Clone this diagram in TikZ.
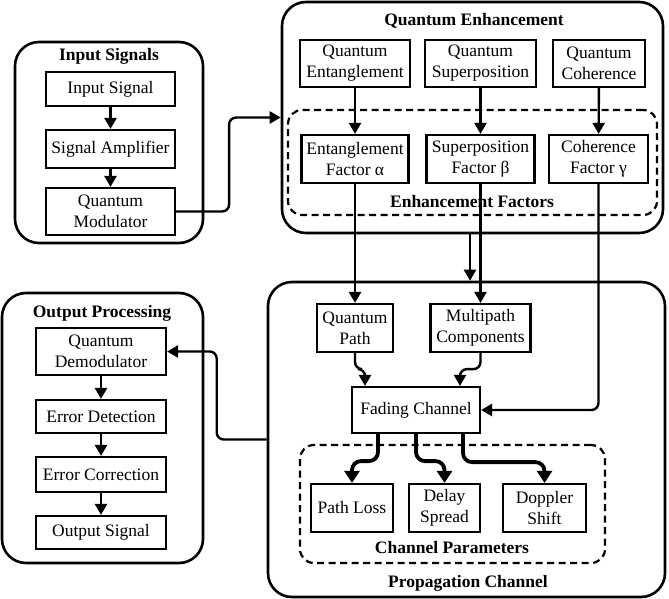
\documentclass[tikz,border=0pt]{standalone}
\usepackage{fontspec}
\setmainfont{Liberation Serif}
\usepackage{tikz}
\usetikzlibrary{arrows.meta}

\newcommand{\diagfont}{\fontsize{17.5}{21}\selectfont}
\tikzset{
  block/.style={draw, line width=2.2pt, fill=white, align=center, inner sep=1pt, font=\diagfont},
  group/.style={draw, line width=2.6pt, rounded corners=24pt},
  subgroup/.style={draw, line width=2.2pt, dash pattern=on 7pt off 4.5pt, rounded corners=14pt},
  title/.style={font=\diagfont\bfseries, inner sep=0pt},
  flow/.style={line width=2.4pt, rounded corners=7pt, -{Triangle[length=11pt,width=12pt]}},
  heavy/.style={line width=3.8pt, rounded corners=9pt, -{Triangle[length=12pt,width=15pt]}}
}

\begin{document}
\begin{tikzpicture}[x=1pt, y=-1pt]
	\useasboundingbox (0,0) rectangle (669,599);
	% Groups
	\node[group, minimum width=188pt, minimum height=201pt] (ingrp) at (109,142.5) {};
	\node[group, minimum width=381pt, minimum height=231pt] (qe) at (472.5,117.5) {};
	\node[group, minimum width=397pt, minimum height=315pt] (pc) at (466.5,439.5) {};
	\node[group, minimum width=201pt, minimum height=270pt] (outgrp) at (102.5,428) {};
	\node[subgroup, minimum width=369pt, minimum height=105pt] (ef) at (472.5,162.5) {};
	\node[subgroup, minimum width=305pt, minimum height=118pt] (cp) at (452.5,504) {};
	% Titles
	\node[title] (tin) at (109,56) {Input Signals};
	\node[title] (tqe) at (474,21) {Quantum Enhancement};
	\node[title] (tef) at (472,202) {Enhancement Factors};
	\node[title] (tpc) at (468,583) {Propagation Channel};
	\node[title] (tcp) at (452,548) {Channel Parameters};
	\node[title] (tout) at (102,313) {Output Processing};
	% Input signals
	\node[block, minimum width=129pt, minimum height=34pt] (insig) at (110.5,89) {Input Signal};
	\node[block, minimum width=129pt, minimum height=38pt] (amp) at (110.5,149) {Signal Amplifier};
	\node[block, minimum width=129pt, minimum height=47pt] (mod) at (110.5,211.5) {Quantum\\Modulator};
	% Quantum enhancement
	\node[block, minimum width=110pt, minimum height=47pt] (ent) at (355,63.5) {Quantum\\Entanglement};
	\node[block, minimum width=111pt, minimum height=47pt] (sup) at (480.5,63.5) {Quantum\\Superposition};
	\node[block, minimum width=92pt, minimum height=47pt] (coh) at (599,63.5) {Quantum\\Coherence};
	\node[block, minimum width=107pt, minimum height=48pt] (fa) at (355,159) {Entanglement\\Factor α};
	\node[block, minimum width=108pt, minimum height=48pt] (fb) at (480.5,159) {Superposition\\Factor β};
	\node[block, minimum width=99pt, minimum height=48pt] (fc) at (598.5,159) {Coherence\\Factor γ};
	% Propagation channel
	\node[block, minimum width=76pt, minimum height=48pt] (qpath) at (355,328) {Quantum\\Path};
	\node[block, minimum width=100pt, minimum height=48pt] (multi) at (480.5,328) {Multipath\\Components};
	\node[block, minimum width=128pt, minimum height=46pt] (fading) at (416,410) {Fading Channel};
	\node[block, minimum width=82pt, minimum height=48pt] (ploss) at (352,508) {Path Loss};
	\node[block, minimum width=71pt, minimum height=48pt] (delay) at (444.5,508) {Delay\\Spread};
	\node[block, minimum width=83pt, minimum height=48pt] (doppler) at (544.5,508) {Doppler\\Shift};
	% Output processing
	\node[block, minimum width=130pt, minimum height=47pt] (demod) at (101,351.5) {Quantum\\Demodulator};
	\node[block, minimum width=130pt, minimum height=33pt] (det) at (101,416.5) {Error Detection};
	\node[block, minimum width=130pt, minimum height=35pt] (corr) at (101,474.5) {Error Correction};
	\node[block, minimum width=130pt, minimum height=33pt] (outsig) at (101,532.5) {Output Signal};
	% Edges
	\draw[flow] (insig) -- (amp);
	\draw[flow] (amp) -- (mod);
	\draw[flow] (mod.east) -- ++(53,0) |- (qe.west);
	\draw[flow] (ent) -- (fa);
	\draw[flow] (sup) -- (fb);
	\draw[flow] (coh) -- (fc);
	\draw[flow] ([xshift=-2.5pt]qe.south) -- ([xshift=-2.5pt]qe.south |- pc.north);
	\draw[flow] (fa.south) -- (qpath.north);
	\draw[flow] (fb.south) -- (multi.north);
	\draw[flow] (fc.south) |- (fading.east);
	\draw[flow] (qpath.south) -- ++(0,16) -| ([xshift=-51pt]fading.north);
	\draw[flow] (multi.south) -- ++(0,16) -| ([xshift=44pt]fading.north);
	\draw[flow] (pc.west) -- ++(-50,0) |- (demod.east);
	\draw[flow] (demod) -- (det);
	\draw[flow] (det) -- (corr);
	\draw[flow] (corr) -- (outsig);
	% Heavy edges to channel parameters
	\draw[heavy] ([xshift=-38pt]fading.south) -- ++(0,27) -| (ploss.north);
	\draw[heavy] (fading.south) -- ++(0,27) -| (delay.north);
	\draw[heavy] ([xshift=47pt]fading.south) -- ++(0,28) -| (doppler.north);
\end{tikzpicture}
\end{document}
